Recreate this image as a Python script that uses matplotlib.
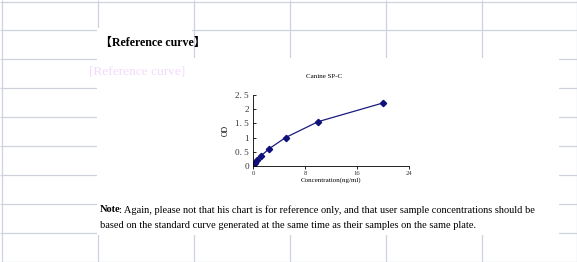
import matplotlib
matplotlib.use("Agg")
import matplotlib.pyplot as plt
from matplotlib.patches import Rectangle

# standard curve data
conc = [0, 0.3125, 0.625, 1.25, 2.5, 5, 10, 20]
od = [0.05, 0.12, 0.2, 0.36, 0.61, 1.0, 1.56, 2.22]
xticks = [0, 8, 16, 24]
yticks = [0, 0.5, 1, 1.5, 2, 2.5]
ytick_labels = ["0", "0. 5", "1", "1. 5", "2", "2. 5"]

# spreadsheet grid (pixel positions)
row_lines = [1, 29, 58, 87, 116, 145, 174, 203, 232, 261]
col_lines = [1, 97, 193, 289, 385, 481, 576]

W, H = 577, 262
fig = plt.figure(figsize=(W / 100, H / 100), dpi=100)
bg = fig.add_axes([0, 0, 1, 1])
bg.set_xlim(0, W)
bg.set_ylim(H, 0)
bg.axis("off")

gc = "#cfd2dc"
bg.hlines([r + 0.5 for r in row_lines], 0, W, color=gc, lw=0.9)
bg.vlines([c + 0.5 for c in col_lines], 0, H, color=gc, lw=0.9)

# white pasted picture + title box
bg.add_patch(Rectangle((96.5, 27.5), 95, 30.5, fc="white", ec="none", zorder=2))
bg.add_patch(Rectangle((96.5, 57.5), 462.5, 177.5, fc="white", ec="none", zorder=2))

bg.text(100, 43, "【Reference curve】", family=["Liberation Serif", "Noto Sans CJK SC"],
        fontsize=8.6, fontweight="bold", va="center", ha="left", zorder=3)
bg.text(89, 71, "[Reference curve]", family="Liberation Serif", fontsize=9.6,
        color="#f3d9fb", va="center", ha="left", zorder=3)

note_font = dict(family="Liberation Serif", fontsize=7.5, va="center", zorder=3)
t = bg.text(100, 210, "Note", fontweight="bold", ha="left", **note_font)
bg.annotate(": Again, please not that his chart is for reference only, and that user sample concentrations should be",
            xy=(1, 0.5), xycoords=t, xytext=(-2, 0), textcoords="offset pixels",
            ha="left", **note_font)
bg.text(100, 225, "based on the standard curve generated at the same time as their samples on the same plate.",
        ha="left", **note_font)

# chart
ax = fig.add_axes([253 / W, 1 - 166 / H, 156 / W, 71 / H])
ax.plot(conc, od, color="#1a1a80", lw=0.9, marker="D", ms=3.2, mfc="#10107a", mec="#10107a")
ax.set_xlim(0, 24)
ax.set_ylim(0, 2.5)
ax.set_xticks(xticks)
ax.set_yticks(yticks)
ax.set_yticklabels(ytick_labels)
for s in ["top", "right"]:
    ax.spines[s].set_visible(False)
for s in ["left", "bottom"]:
    ax.spines[s].set_linewidth(0.6)
ax.tick_params(axis="y", direction="in", length=2.5, width=0.6, labelsize=6.6,
               labelcolor="#333333", pad=3)
ax.tick_params(axis="x", direction="out", length=2, width=0.6, labelsize=4.8,
               labelcolor="#333333", pad=1.5)
for lb in ax.get_yticklabels():
    lb.set_family("Liberation Serif")
for lb in ax.get_xticklabels():
    lb.set_family("Liberation Serif")
ax.set_xlabel("Concentration(ng/ml)", family="Liberation Serif", fontsize=5, labelpad=1)
ax.set_ylabel("OD", family="Liberation Serif", fontsize=5.5, labelpad=4)
fig.text(324 / W, 1 - 77 / H, "Canine SP-C", family="Liberation Serif", fontsize=5,
         ha="center", va="center")

fig.savefig("out.png", dpi=100)
